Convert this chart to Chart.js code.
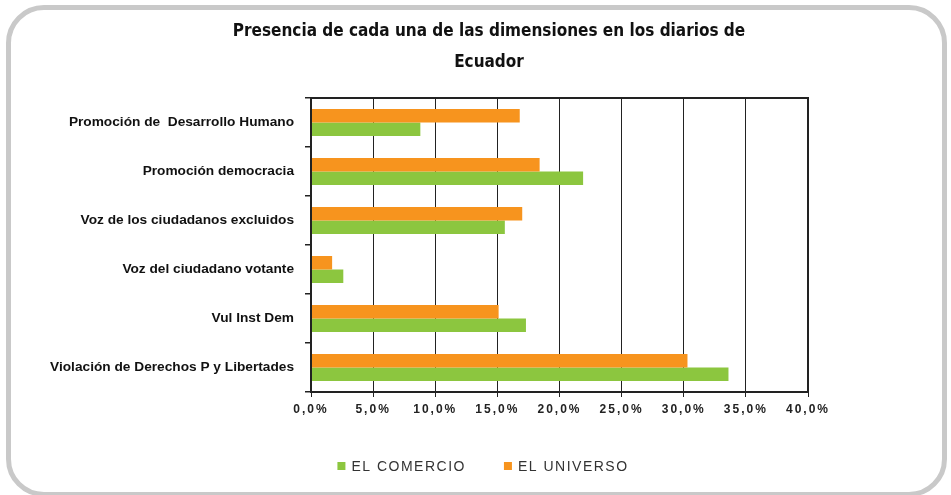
<!DOCTYPE html>
<html><head><meta charset="utf-8">
<script src="https://cdn.jsdelivr.net/npm/chart.js@4/dist/chart.umd.min.js"></script>
<style>
html,body{margin:0;padding:0;background:#fff;width:951px;height:495px;overflow:hidden}
#frame{position:absolute;left:6px;top:5px;width:941px;height:492px;border:5px solid #c9c9c9;border-radius:38px;box-sizing:border-box}
#wrap{position:absolute;left:0;top:0;width:951px;height:495px}
</style></head><body>
<div id="frame"></div>
<div id="wrap"><canvas id="c" width="951" height="495"></canvas></div>
<script>
const titleLines = ['Presencia de cada una de las dimensiones en los diarios de', 'Ecuador'];
const categories = [
  'Promoción de  Desarrollo Humano',
  'Promoción democracia',
  'Voz de los ciudadanos excluidos',
  'Voz del ciudadano votante',
  'Vul Inst Dem',
  'Violación de Derechos P y Libertades'
];
const seriesNames = ['EL UNIVERSO', 'EL COMERCIO'];
const elUniverso = [16.8, 18.4, 17.0, 1.7, 15.1, 30.3];
const elComercio = [8.8, 21.9, 15.6, 2.6, 17.3, 33.6];
const xTickLabels = ['0,0%', '5,0%', '10,0%', '15,0%', '20,0%', '25,0%', '30,0%', '35,0%', '40,0%'];
const colors = ['#f7941e', '#8cc63f'];

const PLOT_LEFT = 311, PLOT_RIGHT = 808, PLOT_TOP = 98, PLOT_BOTTOM = 392;
const PAD_LEFT = 20, X_AXIS_H = 30;

const spacingPlugin = {
  id: 'spacing',
  beforeDraw(chart) { chart.ctx.letterSpacing = '2px'; },
  afterDatasetsDraw(chart) {
    const ctx = chart.ctx, a = chart.chartArea;
    ctx.letterSpacing = '0px';
    ctx.save();
    ctx.strokeStyle = '#222';
    ctx.lineWidth = 2;
    ctx.strokeRect(a.left, a.top, a.right - a.left, a.bottom - a.top);
    ctx.restore();
  },
  afterDraw(chart) {
    const ctx = chart.ctx;
    ctx.save();
    ctx.letterSpacing = '0px';
    ctx.fillStyle = '#111';
    ctx.textAlign = 'center';
    ctx.textBaseline = 'alphabetic';
    ctx.font = 'bold 17px "DejaVu Sans Condensed"';
    ctx.fillText(titleLines[0], 489, 36);
    ctx.fillText(titleLines[1], 489, 67);

    // legend (EL COMERCIO first, as in the reference)
    const items = chart.data.datasets.slice().reverse();
    ctx.font = '14px "Liberation Sans", Arial, sans-serif';
    ctx.letterSpacing = '1.5px';
    const box = 8, gapText = 6, gapItem = 38;
    let widths = items.map(d => box + gapText + ctx.measureText(d.label).width);
    let total = widths.reduce((s, w) => s + w, 0) + gapItem * (items.length - 1);
    let x = 483 - total / 2;
    const cy = 466;
    items.forEach((d, i) => {
      ctx.fillStyle = d.backgroundColor;
      ctx.fillRect(x, cy - box / 2, box, box);
      ctx.fillStyle = '#333';
      ctx.textAlign = 'left';
      ctx.textBaseline = 'middle';
      ctx.fillText(d.label, x + box + gapText, cy + 1);
      x += widths[i] + gapItem;
    });
    ctx.restore();
    ctx.letterSpacing = '0px';
  }
};

new Chart(document.getElementById('c'), {
  type: 'bar',
  data: {
    labels: categories,
    datasets: [
      { label: seriesNames[0], data: elUniverso, backgroundColor: colors[0], borderWidth: 0, barPercentage: 1, categoryPercentage: 0.55 },
      { label: seriesNames[1], data: elComercio, backgroundColor: colors[1], borderWidth: 0, barPercentage: 1, categoryPercentage: 0.55 }
    ]
  },
  options: {
    indexAxis: 'y',
    responsive: false,
    animation: false,
    devicePixelRatio: 1,
    layout: { padding: { left: PAD_LEFT, right: 951 - PLOT_RIGHT, top: PLOT_TOP, bottom: 495 - PLOT_BOTTOM - X_AXIS_H } },
    plugins: { legend: { display: false }, title: { display: false }, tooltip: { enabled: false } },
    scales: {
      x: {
        min: 0, max: 40,
        afterFit(s) { s.height = X_AXIS_H; },
        ticks: {
          stepSize: 5, autoSkip: false, maxRotation: 0, padding: 5,
          color: '#222',
          font: { family: '"Liberation Sans", Arial, sans-serif', size: 12, weight: 'bold' },
          callback: (v, i) => xTickLabels[i]
        },
        grid: { color: '#222', lineWidth: 1, tickLength: 5 },
        border: { color: '#222', width: 2 }
      },
      y: {
        afterFit(s) { s.width = PLOT_LEFT - PAD_LEFT; },
        ticks: {
          z: 1, padding: 11, color: '#111',
          font: { family: '"Liberation Sans", Arial, sans-serif', size: 13.7, weight: 'bold' }
        },
        grid: { offset: true, drawOnChartArea: false, tickLength: 6, color: '#222', lineWidth: 1.5 },
        border: { color: '#222', width: 2 }
      }
    }
  },
  plugins: [spacingPlugin]
});
</script>
</body></html>
